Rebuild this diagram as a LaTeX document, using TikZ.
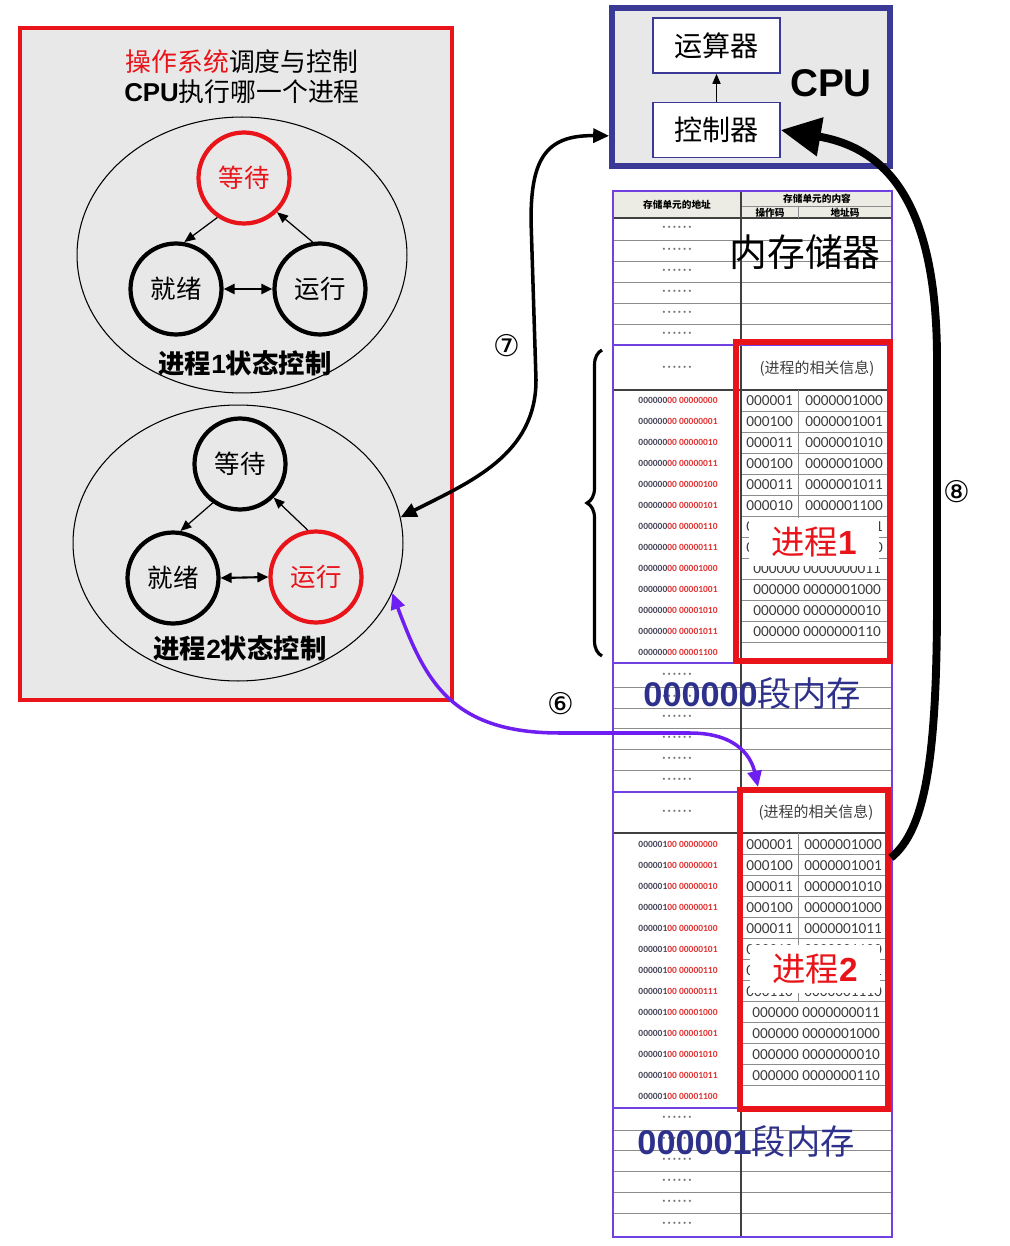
\documentclass[tikz,border=0pt]{standalone}
\usepackage{fontspec}
\setmainfont{Liberation Sans}
\newfontfamily\cjk{Noto Sans CJK SC}
\newfontfamily\dvs{DejaVu Sans}
\newfontfamily\cali{Carlito}
\usetikzlibrary{shapes.geometric,arrows.meta,decorations.pathreplacing,fit}
\definecolor{rd}{RGB}{232,20,26}
\definecolor{navy}{RGB}{58,58,150}
\definecolor{purp}{RGB}{112,64,224}
\definecolor{arrp}{RGB}{110,30,240}
\definecolor{segblue}{RGB}{46,49,140}
\definecolor{lgray}{RGB}{232,232,232}
\definecolor{hdr}{RGB}{236,236,228}
\definecolor{rowline}{RGB}{140,140,140}
\definecolor{adgray}{RGB}{70,70,90}
\definecolor{adred}{RGB}{225,50,50}
\definecolor{txtgray}{RGB}{60,60,60}
\newcommand\myfs[1]{\fontsize{#1}{#1}\selectfont}
\newcommand\sixdots{{\cali\myfs{8.5}·\kern0.8pt·\kern0.8pt·\kern0.8pt·\kern0.8pt·\kern0.8pt·}}
\tikzset{
 bigbox/.style={draw=rd, line width=2.8pt, fill=lgray, inner sep=0pt},
 state/.style={circle, draw=black, line width=2.4pt, minimum size=1.82cm, inner sep=0pt, font=\cjk\myfs{14.5}},
 hot/.style={state, draw=rd, text=rd},
 procell/.style={ellipse, draw=black, line width=0.6pt, minimum width=6.6cm, minimum height=5.52cm, inner sep=0pt},
 tran/.style={-{Triangle[length=0.22cm,width=0.18cm]}, line width=0.7pt},
 tran2/.style={{Triangle[length=0.22cm,width=0.2cm]}-{Triangle[length=0.22cm,width=0.2cm]}, line width=1.2pt},
 unit/.style={draw=navy, line width=0.9pt, fill=white, minimum width=2.54cm, minimum height=1.1cm, inner sep=0pt, font=\cjk\myfs{16}},
 redframe/.style={draw=rd, line width=3.4pt, inner sep=0pt},
 addr/.style={font=\cali\bfseries\myfs{5.4}, inner sep=0pt},
 data/.style={font=\cali\myfs{8.7}, text=txtgray, inner sep=0pt},
 dotcell/.style={text=black!55, inner sep=0pt},
 hdrtxt/.style={font=\cjk\bfseries\myfs{5.5}, inner sep=0pt},
 rowln/.style={draw=rowline, line width=0.5pt},
 secln/.style={draw=purp, line width=1.1pt},
 darkln/.style={draw=black!75, line width=0.6pt},
 tag/.style={fill=white, inner sep=0pt, minimum width=2.6cm, minimum height=0.96cm, text=rd, font=\cjk\myfs{19}},
 seg/.style={inner sep=0pt, text=segblue, font=\myfs{19.5}},
 num/.style={font=\dvs\myfs{17}, inner sep=0pt},
 statelbl/.style={font=\cjk\bfseries\myfs{15}, inner sep=0pt},
 link/.style={{Triangle[length=0.32cm,width=0.28cm]}-{Triangle[length=0.32cm,width=0.28cm]}, line width=2pt},
}
\begin{document}
\begin{tikzpicture}[x=0.02cm, y=-0.02cm]
\useasboundingbox (0,0) rectangle (1009,1246);

% ---------- left box ----------
\node[bigbox, fit={(20,28) (452,700)}] (osbox) {};
\node[font=\cjk\myfs{14.7}, inner sep=0pt] (title1) at (242,62) {\textcolor{rd}{操作系统}调度与控制};
\node[font=\cjk\myfs{14.7}, inner sep=0pt] (title2) at (242,92) {{\rmfamily\bfseries CPU}执行哪一个进程};

\node[procell] (e1) at (242,255) {};
\node[procell] (e2) at (238,543) {};

\node[hot] (w1) at (244,178) {等待};
\node[state] (r1) at (176,289) {就绪};
\node[state] (u1) at (320,289) {运行};
\node[statelbl] (l1) at (245,363) {进程{\rmfamily\bfseries 1}状态控制};

\node[state] (w2) at (240,464) {等待};
\node[state] (r2) at (173,578) {就绪};
\node[hot] (u2) at (316,577) {运行};
\node[statelbl] (l2) at (240,648) {进程{\rmfamily\bfseries 2}状态控制};

\draw[tran] (w1.-124) -- (r1.80);
\draw[tran] (u1.99) -- (w1.-46);
\draw[tran2] (r1.east) -- (u1.west);
\draw[tran] (w2.-125) -- (r2.81);
\draw[tran] (u2.100) -- (w2.-45);
\draw[tran2] (r2.east) -- (u2.west);

% ---------- CPU ----------
\node[draw=navy, line width=3.2pt, fill=lgray, inner sep=0pt, fit={(612,8) (890,166)}] (cpu) {};
\node[unit] (alu) at (716.5,45.5) {运算器};
\node[unit] (ctrl) at (716.5,130) {控制器};
\draw[-{Triangle[length=0.2cm,width=0.16cm]}, line width=0.9pt] (ctrl.north) -- (alu.south);
\node[font=\bfseries\myfs{22}, inner sep=0pt] (cpulbl) at (831,83) {CPU};

% ---------- memory table ----------
\fill[hdr] (614,192) rectangle (891,218);
\draw[darkln] (613,218) -- (892,218);
\draw[rowln] (741,206) -- (892,206);
\draw[rowln] (798,206) -- (798,218);
\foreach \y in {240,261,282,303,324} \draw[rowln] (613,\y) -- (892,\y);
\draw[darkln] (613,390) -- (892,390);
\foreach \k in {1,...,12} \draw[rowln] (741,390+21*\k) -- (892,390+21*\k);
\draw[rowln] (798,390) -- (798,558);
\foreach \y in {687,708,728,749,770} \draw[rowln] (613,\y) -- (892,\y);
\draw[darkln] (613,833) -- (892,833);
\foreach \k in {1,...,12} \draw[rowln] (741,833+21*\k) -- (892,833+21*\k);
\draw[rowln] (798,833) -- (798,1001);
\foreach \y in {1130,1150,1171,1192,1213} \draw[rowln] (613,\y) -- (892,\y);
\draw[darkln] (741,192) -- (741,1237);
\foreach \y in {345,663,792,1108} \draw[secln] (613,\y) -- (892,\y);
\node[draw=purp, line width=1.1pt, inner sep=0pt, fit={(613,191) (892,1237)}] (mem) {};

\node[hdrtxt] (h1) at (677,205) {存储单元的地址};
\node[hdrtxt] (h2) at (817,199) {存储单元的内容};
\node[hdrtxt] (h3) at (770,212.5) {操作码};
\node[hdrtxt] (h4) at (845,212.5) {地址码};
\node[font=\cjk\myfs{21.5}, inner sep=0pt] (memlbl) at (805,252) {内存储器};

\foreach \i/\y in {1/229,2/250.5,3/271.5,4/292.5,5/313.5,6/334.5,7/369,8/675.5,9/697.5,10/718,11/738.5,12/759.5,13/781,14/812.5,15/1119,16/1140,17/1160.5,18/1181.5,19/1202.5,20/1224.5}
  \node[dotcell] (dt\i) at (677,\y) {\sixdots};

\node[font=\cjk\myfs{8.5}, text=txtgray, inner sep=0pt] (info1) at (817,369) {(进程的相关信息)};
\node[font=\cjk\myfs{8.5}, text=txtgray, inner sep=0pt] (info2) at (816,813) {(进程的相关信息)};

\foreach \k/\b in {0/00000000,1/00000001,2/00000010,3/00000011,4/00000100,5/00000101,6/00000110,7/00000111,8/00001000,9/00001001,10/00001010,11/00001011,12/00001100} {
  \node[addr] (aa\k) at (678,400.5+21*\k) {\textcolor{adgray}{000000}\textcolor{adred}{00 \b}};
  \node[addr] (ab\k) at (678,844.5+21*\k) {\textcolor{adgray}{000001}\textcolor{adred}{00 \b}};
}

\foreach \k/\o/\d in {0/000001/0000001000,1/000100/0000001001,2/000011/0000001010,3/000100/0000001000,4/000011/0000001011,5/000010/0000001100,6/000101/0000001101,7/000110/0000001110} {
  \node[data] (po\k) at (769.5,400.5+21*\k) {\o};
  \node[data] (pd\k) at (844,400.5+21*\k) {\d};
}
\foreach \k/\o/\d in {0/000001/0000001000,1/000100/0000001001,2/000011/0000001010,3/000100/0000001000,4/000011/0000001011,5/000010/0000001100,6/000101/0000001101,7/000110/0000001110} {
  \node[data] (qo\k) at (769.5,844.5+21*\k) {\o};
  \node[data] (qd\k) at (843,844.5+21*\k) {\d};
}
\foreach \k/\d in {8/0000000011,9/0000001000,10/0000000010,11/0000000110} {
  \node[data] (ps\k) at (817,400.5+21*\k) {000000 \d};
  \node[data] (qs\k) at (816,844.5+21*\k) {000000 \d};
}

\node[redframe, fit={(736,342) (890,661)}] (p1box) {};
\node[redframe, fit={(740,790) (888,1109)}] (p2box) {};
\node[tag] (tag1) at (814,542) {进程{\rmfamily\bfseries 1}};
\node[tag] (tag2) at (815,969) {进程{\rmfamily\bfseries 2}};

\node[seg] (seg0) at (752,693) {{\bfseries 000000}{\cjk 段内存}};
\node[seg] (seg1) at (746,1141) {{\bfseries 000001}{\cjk 段内存}};

% brace
\draw[decorate, decoration={brace, amplitude=0.3cm}, line width=1.8pt] (602,656) -- (602,350);

% ---------- connectors ----------
\draw[link]
  (e2.9) .. controls (470,482) and (536,455) .. (536,380) -- (531,220) .. controls (531,160) and (545,135) .. (cpu.199);
\node[num] (n7) at (507,346) {⑦};

\draw[link, draw=arrp]
  (e2.-18) .. controls (425,680) and (450,733) .. (560,733) -- (690,733) .. controls (740,733) and (752,760) .. (p2box.109);
\node[num] (n6) at (561,704) {⑥};

\draw[-{Triangle[length=0.8cm,width=0.75cm]}, line width=4.5pt]
  (p2box.50) .. controls (925,830) and (937,760) .. (937,600) -- (937,360) .. controls (937,200) and (885,148) .. (ctrl.east);
\node[num] (n8) at (957,492) {⑧};
\end{tikzpicture}
\end{document}
